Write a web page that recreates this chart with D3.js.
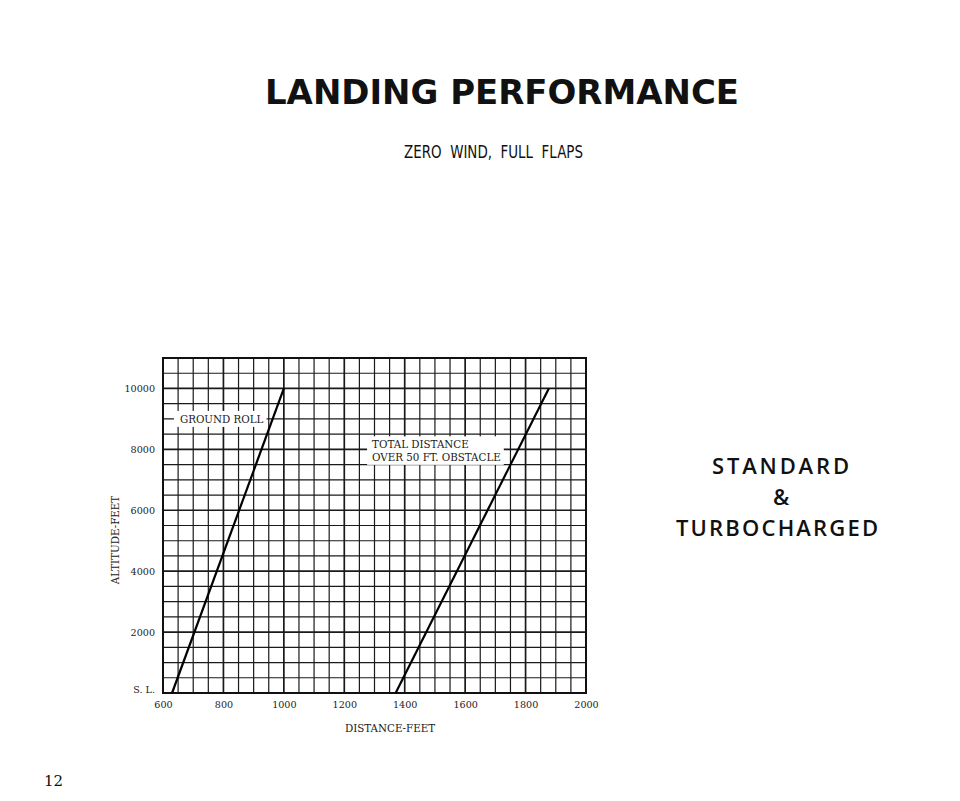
<!DOCTYPE html>
<html>
<head>
<meta charset="utf-8">
<script src="https://cdn.jsdelivr.net/npm/d3@7"></script>
<style>
  body { margin: 0; background: #fff; }
  svg { display: block; }
  .tick text { font-family: "DejaVu Serif", serif; font-size: 9.6px; fill: #222; }
  .lbl { font-family: "DejaVu Serif", serif; font-size: 10.3px; fill: #222; }
</style>
</head>
<body>
<div id="chart"></div>
<script>
// altitude (ft) vs landing distance (ft)
let altitudes = [0, 10000]
let groundRoll = [630, 1000]
let totalDistance = [1370, 1877]

let xTicks = [600, 800, 1000, 1200, 1400, 1600, 1800, 2000]
let yTicks = [0, 2000, 4000, 6000, 8000, 10000]

let width = 960, height = 801

let svg = d3.select('#chart')
    .append('svg')
    .attr('width', width)
    .attr('height', height)

let x = d3.scaleLinear().domain([600, 2000]).range([163, 586])
let y = d3.scaleLinear().domain([0, 11000]).range([693, 358])

// titles
svg.append('text')
    .text('LANDING PERFORMANCE')
    .attr('x', 265).attr('y', 104)
    .attr('textLength', 474).attr('lengthAdjust', 'spacingAndGlyphs')
    .attr('font-family', '"DejaVu Sans", sans-serif')
    .attr('font-weight', 'bold')
    .attr('font-size', 33)
    .attr('fill', '#111')

svg.append('text')
    .text('ZERO  WIND,  FULL  FLAPS')
    .attr('x', 404).attr('y', 158)
    .attr('textLength', 179).attr('lengthAdjust', 'spacingAndGlyphs')
    .attr('font-family', '"DejaVu Sans Condensed", "DejaVu Sans", sans-serif')
    .attr('font-size', 17)
    .attr('style', 'white-space: pre')
    .attr('fill', '#111')

let side = [
    { t: 'STANDARD', x0: 712, w: 137, yb: 474 },
    { t: '&', x0: 773, w: 16, yb: 505 },
    { t: 'TURBOCHARGED', x0: 676, w: 202, yb: 536 }
]
svg.selectAll('.side')
    .data(side)
    .enter()
    .append('text')
    .attr('class', 'side')
    .text(d => d.t)
    .attr('x', d => d.x0).attr('y', d => d.yb)
    .attr('textLength', d => d.w).attr('lengthAdjust', 'spacing')
    .attr('font-family', '"Open Sans", sans-serif')
    .attr('font-weight', 600)
    .attr('font-size', 22)
    .attr('fill', '#111')

svg.append('text')
    .text('12')
    .attr('x', 44).attr('y', 786)
    .attr('font-family', '"DejaVu Serif", serif')
    .attr('font-size', 15)
    .attr('fill', '#111')

// grid
let grid = svg.append('g').attr('class', 'grid')

grid.selectAll('.vline')
    .data(d3.range(650, 2000, 50))
    .enter()
    .append('line')
    .attr('x1', d => x(d)).attr('x2', d => x(d))
    .attr('y1', y(11000)).attr('y2', y(0))
    .attr('stroke', '#1a1a1a')
    .attr('stroke-width', d => d % 200 == 0 ? 1.7 : 1.2)

grid.selectAll('.hline')
    .data(d3.range(500, 11000, 500))
    .enter()
    .append('line')
    .attr('x1', x(600)).attr('x2', x(2000))
    .attr('y1', d => y(d)).attr('y2', d => y(d))
    .attr('stroke', '#1a1a1a')
    .attr('stroke-width', d => d % 2000 == 0 ? 1.7 : 1.2)

svg.append('rect')
    .attr('x', x(600)).attr('y', y(11000))
    .attr('width', x(2000) - x(600)).attr('height', y(0) - y(11000))
    .attr('fill', 'none')
    .attr('stroke', '#111')
    .attr('stroke-width', 2)

// label boxes (white patches over the grid)
function labelBox(lines, xs, yb, padL, padR, padT, padB) {
    let g = svg.append('g')
    let bg = g.append('rect').attr('fill', '#fff')
    let t = g.append('text').attr('class', 'lbl')
    lines.forEach((s, i) => {
        t.append('tspan').text(s).attr('x', xs).attr('y', yb + i * 12.5)
    })
    let b = t.node().getBBox()
    bg.attr('x', b.x - padL).attr('y', b.y - padT)
        .attr('width', b.width + padL + padR)
        .attr('height', b.height + padT + padB)
}

labelBox(['GROUND ROLL'], x(656), y(9000) + 4, 6, 3, 2, 2)
labelBox(['TOTAL DISTANCE', 'OVER 50 FT. OBSTACLE'], x(1292), y(8000) - 1, 5, 3, 2, 2)

// curves
let line = d3.line()
    .x(d => x(d[0]))
    .y(d => y(d[1]))

let series = [
    d3.zip(groundRoll, altitudes),
    d3.zip(totalDistance, altitudes)
]

svg.selectAll('.curve')
    .data(series)
    .enter()
    .append('path')
    .attr('class', 'curve')
    .attr('d', line)
    .attr('fill', 'none')
    .attr('stroke', '#000')
    .attr('stroke-width', 2.2)

// axes
let xAxis = d3.axisBottom(x).tickValues(xTicks).tickSize(0).tickPadding(8)
    .tickFormat(d3.format('d'))
let yAxis = d3.axisLeft(y).tickValues(yTicks).tickSize(0).tickPadding(8)
    .tickFormat(d => d == 0 ? 'S. L.' : d)

svg.append('g')
    .attr('transform', `translate(0, ${y(0)})`)
    .call(xAxis)
    .call(g => g.select('.domain').remove())

svg.append('g')
    .attr('transform', `translate(${x(600)}, 0)`)
    .call(yAxis)
    .call(g => g.select('.domain').remove())
    .call(g => g.selectAll('.tick').filter(d => d == 0).select('text').attr('dy', '-0.1em'))

svg.append('text')
    .attr('class', 'lbl')
    .text('DISTANCE-FEET')
    .attr('x', 390).attr('y', 732)
    .attr('text-anchor', 'middle')

svg.append('text')
    .attr('class', 'lbl')
    .text('ALTITUDE-FEET')
    .attr('transform', 'translate(119, 540) rotate(-90)')
    .attr('text-anchor', 'middle')
</script>
</body>
</html>
